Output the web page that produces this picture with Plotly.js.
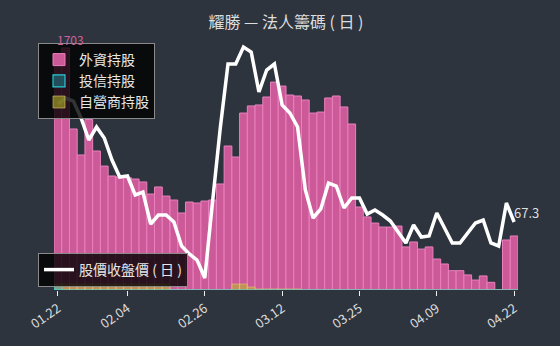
<!DOCTYPE html>
<html>
<head>
<meta charset="utf-8">
<script src="https://cdn.plot.ly/plotly-3.0.1.min.js"></script>
<style>
  html, body { margin: 0; padding: 0; background: #2e343e; }
  #chart { width: 560px; height: 346px; }
</style>
</head>
<body>
<div id="chart"></div>
<script>
// ---- data ----
const dates = [
  "01.22","01.23","01.26","01.27","01.28","01.29","01.30","02.02","02.03","02.04",
  "02.05","02.06","02.09","02.10","02.11","02.12","02.23","02.24","02.25","02.26",
  "02.27","03.02","03.03","03.04","03.05","03.06","03.09","03.10","03.11","03.12",
  "03.13","03.16","03.17","03.18","03.19","03.20","03.21","03.23","03.24","03.25",
  "03.26","03.27","03.30","03.31","04.01","04.02","04.06","04.07","04.08","04.09",
  "04.10","04.13","04.14","04.15","04.16","04.17","04.18","04.20","04.21","04.22"
];
const tickDates = ["01.22","02.04","02.26","03.12","03.25","04.09","04.22"];

const foreignHold = [
  1660,1703,1133, 950,1200, 978, 872, 802, 795, 790,
   781, 760, 675, 725, 661, 633, 542, 619, 612, 626,
   633, 746,1013, 936,1245,1295,1302,1358,1463,1435,
  1372,1365,1337,1245,1252,1351,1365,1288,1168, 584,
   514, 471, 443, 443, 450, 303, 338, 288, 303, 218,
   183, 136, 136, 106,  70,  99,  54,   0, 352, 380
];
const trustHold = [
  26,0,0,0,0,0,0,0,0,0, 0,0,0,0,0,0,0,0,0,0,
  0,0,0,0,0,0,0,0,0,0, 0,0,0,0,0,0,0,0,0,0,
  0,0,0,0,0,0,0,0,0,0, 0,0,0,0,0,0,0,0,0,0
];
const dealerHold = [
  42,42,42,42,42,42,42,42,42,42, 42,42,42,42,42,0,0,0,0,0,
  0,0,0,42,42,21,7,7,7,7, 7,7,0,0,0,0,0,0,0,0,
  0,0,0,0,0,0,0,0,0,0, 0,0,0,0,0,0,0,0,0,0
];
const closePrice = [
  90.9,92.1,91.5,88.1,83.7,86.3,84.1,79.7,76.3,76.5,
  72.7,73.3,66.9,68.7,68.7,67.3,62.5,60.9,59.7,56.1,
  71.3,86.1,98.9,98.9,102.3,101.3,93.3,97.7,98.9,90.7,
  89.1,86.3,73.7,68.1,69.9,75.1,74.5,70.1,72.1,72.1,
  68.9,69.7,68.7,67.5,65.3,63.1,66.7,64.3,64.5,69.1,
  66.1,63.1,63.1,65.1,67.1,67.7,63.1,62.5,71.1,67.3
];

const FONT = '"Noto Sans CJK TC", "Noto Sans", sans-serif';
const BG = '#2e343e';

const maxVal = Math.max(...foreignHold);
const maxIdx = foreignHold.indexOf(maxVal);
const lastIdx = closePrice.length - 1;

const traces = [
  {
    type: 'bar', name: '外資持股', x: dates, y: foreignHold,
    marker: { color: '#cc5a98', line: { color: '#ea80be', width: 1 } },
    legendrank: 1, hoverinfo: 'skip'
  },
  {
    type: 'bar', name: '自營商持股', x: dates, y: dealerHold,
    marker: { color: 'rgba(188,189,34,0.55)', line: { color: 'rgba(225,200,120,0.6)', width: 1 } },
    legendrank: 3, hoverinfo: 'skip'
  },
  {
    type: 'bar', name: '投信持股', x: dates, y: trustHold,
    marker: { color: 'rgba(23,190,207,0.35)', line: { color: 'rgba(40,210,220,0.95)', width: 1.2 } },
    legendrank: 2, hoverinfo: 'skip'
  },
  {
    type: 'scatter', mode: 'lines', name: '股價收盤價 ( 日 )', x: dates, y: closePrice,
    yaxis: 'y2', legend: 'legend2',
    line: { color: '#ffffff', width: 3.5 }, hoverinfo: 'skip'
  }
];

const layout = {
  width: 560, height: 346,
  paper_bgcolor: BG, plot_bgcolor: BG,
  margin: { l: 54, r: 42, t: 40, b: 56, autoexpand: false },
  font: { family: FONT, color: '#dddddd', size: 12 },
  title: {
    text: '耀勝 — 法人籌碼 ( 日 )',
    x: 0.5, xref: 'paper', xanchor: 'center',
    y: 1 - 22/346, yref: 'container', yanchor: 'middle',
    font: { family: FONT, size: 16, color: '#dddddd' }
  },
  barmode: 'overlay', bargap: 0,
  showlegend: true,
  xaxis: {
    type: 'category', range: [-0.5, dates.length - 0.5],
    tickmode: 'array', tickvals: tickDates, ticktext: tickDates,
    tickangle: -35, ticks: 'outside', ticklen: 5, tickwidth: 1, tickcolor: '#eeeeee',
    tickfont: { family: FONT, size: 13, color: '#dddddd' },
    showgrid: false, zeroline: false, showline: false, fixedrange: true
  },
  yaxis: {
    range: [0, 1759], showgrid: false, zeroline: false, showline: false,
    showticklabels: false, ticks: ''
  },
  yaxis2: {
    range: [53.7, 103.7], overlaying: 'y', side: 'right',
    showgrid: false, zeroline: false, showline: false, showticklabels: false, ticks: ''
  },
  legend: {
    xref: 'container', yref: 'container',
    x: 38/560, y: 1 - 43/346, xanchor: 'left', yanchor: 'top',
    bgcolor: 'rgba(0,0,0,0.8)', bordercolor: '#8a8a8a', borderwidth: 1,
    font: { family: FONT, size: 14, color: '#e6e6e6' },
    itemwidth: 30, traceorder: 'normal'
  },
  legend2: {
    xref: 'container', yref: 'container',
    x: 38/560, y: 1 - 253/346, xanchor: 'left', yanchor: 'top',
    bgcolor: 'rgba(0,0,0,0.8)', bordercolor: '#8a8a8a', borderwidth: 1,
    font: { family: FONT, size: 14, color: '#e6e6e6' },
    itemwidth: 30
  },
  annotations: [
    {
      x: maxIdx, y: maxVal, xref: 'x', yref: 'y',
      text: String(maxVal), showarrow: false,
      xanchor: 'center', yanchor: 'bottom', xshift: 5, yshift: -2,
      font: { family: FONT, size: 12, color: '#d0609c' }
    },
    {
      x: lastIdx, y: closePrice[lastIdx], xref: 'x', yref: 'y2',
      text: String(closePrice[lastIdx]), showarrow: false,
      xanchor: 'left', yanchor: 'bottom', xshift: -2, yshift: -2,
      font: { family: FONT, size: 13, color: '#dddddd' }
    }
  ]
};

Plotly.newPlot('chart', traces, layout, { staticPlot: true, displayModeBar: false });
</script>
</body>
</html>
